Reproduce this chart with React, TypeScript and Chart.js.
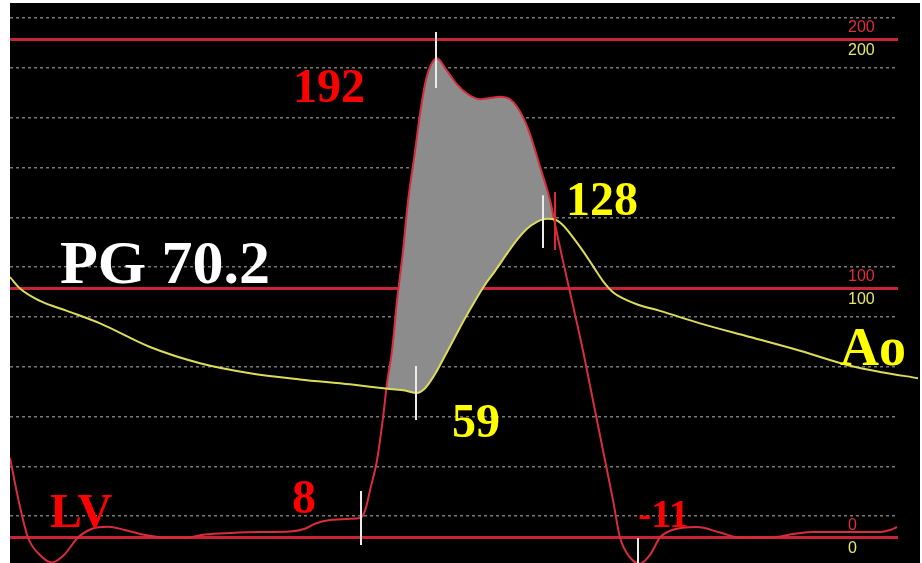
import React, { useEffect, useRef } from "react";
import { Chart, registerables } from "chart.js";

Chart.register(...registerables);

// LV pressure trace (time in ms, pressure in mmHg)
const lvTime = [0, 8, 18, 30, 42, 54, 68, 82, 98, 115, 135, 155, 175, 195, 220, 250, 280, 295, 305, 320, 340, 351, 356, 360, 367, 373, 377, 382, 387, 393, 398, 405, 410, 415, 420, 427, 436, 447, 458, 470, 480, 490, 500, 507, 514, 520, 530, 540, 547, 553, 560, 567, 573, 583, 593, 603, 610, 620, 630, 640, 650, 662, 687, 710, 730, 760, 785, 803, 840, 870, 880, 887];
const lvPressure = [32, 16, 0, -7, -10, -7, 0, 3.5, 4.3, 3, 1, 0, 0, 1.2, 1.8, 2.2, 2.4, 3.5, 5.5, 7, 7.5, 8, 12, 19, 31, 48, 62, 75, 95, 115, 135, 155, 170, 182, 189, 192.5, 188, 182, 178, 176, 176.5, 177, 176, 173, 168, 162, 149, 135.5, 122, 111, 98.5, 86, 75, 55, 35, 15, 0, -8, -10.5, -7, 0, 3, 4.2, 2, 0, 0, 1.5, 2.2, 2.2, 2.2, 3, 4.2];

// Aortic pressure trace
const aoTime = [0, 10, 30, 57, 90, 140, 190, 240, 290, 340, 380, 395, 407, 414, 420, 427, 435, 445, 455, 465, 475, 485, 497, 507, 517, 527, 537, 546, 554, 563, 573, 583, 593, 603, 613, 628, 650, 690, 740, 790, 840, 870, 908];
const aoPressure = [104.6, 100, 95, 91, 86, 76.5, 70, 66, 63.5, 61.5, 59.6, 59, 58, 59.5, 62.5, 67, 73, 80.5, 88, 95, 101.5, 107, 114, 119.5, 124, 126.8, 128, 127.5, 125, 120.5, 115, 109, 103, 98.5, 96, 93.5, 91, 86, 80.5, 75, 69, 66.5, 64];

// Scale reference levels (mmHg) and dashed grid levels
const refLevels = [0, 100, 200];
const gridLevels = [8.6, 28.6, 48.6, 68.6, 88.6, 108.6, 128.6, 148.6, 168.6, 188.6, 208.6];

// Cursor markers: time, top, bottom
const markerTimes = [426, 533, 406, 351, 628];
const markerTops = [203, 137.5, 68.9, 18.7, -0.2];
const markerBottoms = [180.5, 116.3, 47.2, -3, -10.5];
const redMarkerTime = [545];
const redMarkerTop = [138.8];
const redMarkerBottom = [115.5];

// Annotation texts with anchor (time, pressure)
const labelTexts = ["192", "PG 70.2", "128", "59", "8", "-11", "LV", "Ao"];
const labelTimes = [283, 50, 556, 442, 282, 628, 40, 830];
const labelValues = [174.9, 102.2, 129.5, 40.4, 9.8, 4.2, 4.2, 69.3];
const labelColors = ["#ff0000", "#ffffff", "#ffff00", "#ffff00", "#ff0000", "#ff0000", "#ff0000", "#ffff00"];
const labelSizes = [48, 62, 48, 48, 48, 40, 48, 54];

const X_MIN = 0;
const X_MAX = 888;
const Y_MIN = -10.24;
const Y_MAX = 214.66;

export default function App() {
  const canvasRef = useRef<HTMLCanvasElement | null>(null);

  useEffect(() => {
    const canvas = canvasRef.current;
    if (!canvas) return;

    const bgPlugin = {
      id: "bgPlugin",
      beforeDraw(chart: any) {
        const { ctx, chartArea } = chart;
        ctx.save();
        ctx.fillStyle = "#ffffff";
        ctx.fillRect(0, 0, chart.width, chart.height);
        ctx.fillStyle = "#000000";
        ctx.fillRect(chartArea.left, chartArea.top, chartArea.right - chartArea.left + 22, chart.height - chartArea.top);
        ctx.restore();
      },
    };

    const textPlugin = {
      id: "textPlugin",
      afterDatasetsDraw(chart: any) {
        const { ctx, chartArea } = chart;
        const xs = chart.scales.x;
        const ys = chart.scales.y;
        ctx.save();
        // right-hand scale labels
        ctx.font = '16px "Liberation Sans", Arial, sans-serif';
        ctx.textAlign = "left";
        ctx.textBaseline = "middle";
        const lx = chartArea.right - 50;
        refLevels.forEach((lv) => {
          const py = ys.getPixelForValue(lv);
          ctx.fillStyle = "rgb(225,45,55)";
          ctx.fillText(String(lv), lx, py - 12);
          ctx.fillStyle = "rgb(230,230,110)";
          ctx.fillText(String(lv), lx, py + 11);
        });
        // annotations
        ctx.textBaseline = "alphabetic";
        labelTexts.forEach((t, i) => {
          ctx.font = `bold ${labelSizes[i]}px "Liberation Serif", "DejaVu Serif", serif`;
          ctx.fillStyle = labelColors[i];
          ctx.fillText(t, xs.getPixelForValue(labelTimes[i]), ys.getPixelForValue(labelValues[i]));
        });
        ctx.restore();
      },
    };

    const lvData = lvTime.map((t, i) => ({ x: t, y: lvPressure[i] }));
    const aoData = aoTime.map((t, i) => ({ x: t, y: aoPressure[i] }));

    const datasets: any[] = [];
    markerTimes.forEach((t, i) => {
      datasets.push({
        data: [{ x: t, y: markerTops[i] }, { x: t, y: markerBottoms[i] }],
        borderColor: "rgb(235,235,235)",
        borderWidth: 2,
        pointRadius: 0,
        order: 0,
        clip: false,
      });
    });
    redMarkerTime.forEach((t, i) => {
      datasets.push({
        data: [{ x: t, y: redMarkerTop[i] }, { x: t, y: redMarkerBottom[i] }],
        borderColor: "rgb(220,40,50)",
        borderWidth: 2,
        pointRadius: 0,
        order: 0,
      });
    });
    const lvIndex = datasets.length;
    const aoIndex = lvIndex + 1;
    datasets.push({
      label: "LV",
      data: lvData,
      borderColor: "rgb(215,45,60)",
      borderWidth: 2,
      pointRadius: 0,
      cubicInterpolationMode: "monotone",
      fill: { target: aoIndex, above: "rgb(140,140,140)", below: "rgba(0,0,0,0)" },
      order: 3,
    });
    datasets.push({
      label: "Ao",
      data: aoData,
      borderColor: "rgb(220,220,90)",
      borderWidth: 2,
      pointRadius: 0,
      cubicInterpolationMode: "monotone",
      order: 2,
      clip: { left: 0, top: 0, right: 22, bottom: 0 },
    });
    refLevels.forEach((lv) => {
      datasets.push({
        data: [{ x: X_MIN, y: lv }, { x: X_MAX, y: lv }],
        borderColor: "rgb(200,35,55)",
        borderWidth: 3,
        pointRadius: 0,
        order: 4,
      });
    });

    const chart = new Chart(canvas, {
      type: "line",
      data: { datasets },
      options: {
        animation: false,
        responsive: false,
        maintainAspectRatio: false,
        layout: { padding: { left: 10, top: 3, right: 24, bottom: 0 } },
        plugins: {
          legend: { display: false },
          tooltip: { enabled: false },
        },
        scales: {
          x: { type: "linear", min: X_MIN, max: X_MAX, display: false },
          y: {
            type: "linear",
            min: Y_MIN,
            max: Y_MAX,
            afterBuildTicks: (scale: any) => {
              scale.ticks = gridLevels.map((v) => ({ value: v }));
            },
            ticks: { display: false },
            grid: {
              color: "rgba(160,160,160,0.75)",
              lineWidth: 1.5,
              drawTicks: false,
            },
            border: { display: false, dash: [3, 3] },
          },
        },
      },
      plugins: [bgPlugin, textPlugin],
    });

    return () => chart.destroy();
  }, []);

  return (
    <div style={{ position: "fixed", left: 0, top: 0, width: 922, height: 563, background: "#fff" }}>
      <canvas ref={canvasRef} width={922} height={563} style={{ display: "block", width: 922, height: 563 }} />
    </div>
  );
}
